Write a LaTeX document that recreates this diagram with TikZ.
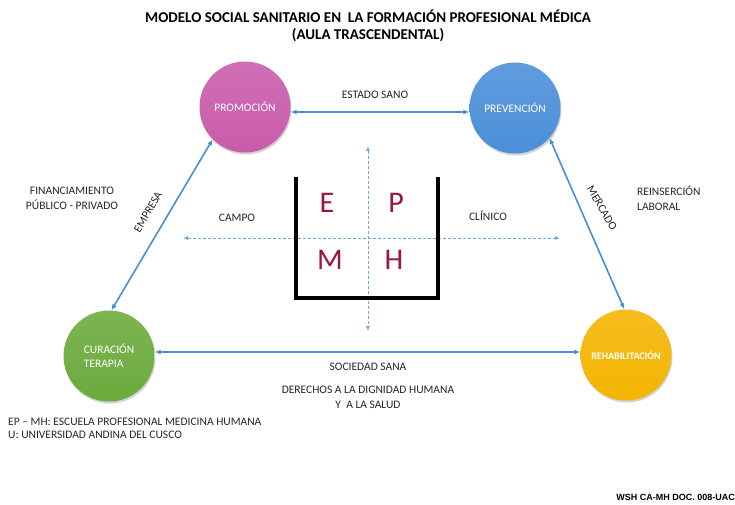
\documentclass[tikz,border=0pt]{standalone}
\usepackage{fontspec}
\setmainfont{Carlito}
\newfontfamily\docfont{Liberation Sans}
\usepackage{xcolor}
\usetikzlibrary{arrows.meta,positioning,shadows}
\definecolor{promopink}{HTML}{C95BAA}
\definecolor{prevblue}{HTML}{4B8FD8}
\definecolor{curagreen}{HTML}{6BAA3C}
\definecolor{rehabyellow}{HTML}{F4B400}
\definecolor{linkblue}{HTML}{4A8FD6}
\definecolor{dashblue}{HTML}{6FA6DC}
\definecolor{letterred}{HTML}{98173F}
\definecolor{inkgray}{HTML}{262626}
\tikzset{
  stagenode/.style={circle,minimum size=91pt,inner sep=0pt,text=white,font=\fontsize{11.5}{14}\selectfont,align=left,drop shadow={opacity=0.35,shadow xshift=1pt,shadow yshift=-2pt}},
  linkarrow/.style={{Latex[length=6pt,width=5pt]}-{Latex[length=6pt,width=5pt]},draw=linkblue,line width=1.6pt},
  axisarrow/.style={{Latex[length=5pt,width=4pt]}-{Latex[length=5pt,width=4pt]},draw=dashblue,line width=1pt,dash pattern=on 3pt off 2pt},
  tagnode/.style={font=\fontsize{11.5}{15}\selectfont,text=inkgray,align=center,inner sep=1pt},
  letternode/.style={font=\fontsize{30}{32}\selectfont,text=letterred},
}
\begin{document}
\begin{tikzpicture}[x=1pt,y=-1pt]
  \useasboundingbox[fill=white] (0,0) rectangle (735,504);
  % title
  \node[font=\bfseries\fontsize{15}{17}\selectfont,align=center,text=black] (title) at (368,26) {MODELO SOCIAL SANITARIO EN\ \ LA FORMACIÓN PROFESIONAL MÉDICA\\(AULA TRASCENDENTAL)};
  % the four stages
  \node[stagenode,top color=promopink!88!white,bottom color=promopink] (promo) at (245,107) {PROMOCIÓN};
  \node[stagenode,top color=prevblue!88!white,bottom color=prevblue] (prev) at (515,108) {PREVENCIÓN};
  \node[stagenode,top color=curagreen!88!white,bottom color=curagreen] (cura) at (109,356) {CURACIÓN\\TERAPIA};
  \node[stagenode,top color=rehabyellow!88!white,bottom color=rehabyellow,font=\bfseries\fontsize{10}{12}\selectfont] (rehab) at (626,355) {REHABILITACIÓN};
  \draw[linkarrow] (promo.east |- 0,112) -- (prev.west |- 0,112);
  \draw[linkarrow] (promo.225) -- (cura.87);
  \draw[linkarrow] (prev.319) -- (rehab.92);
  \draw[linkarrow] (cura.east |- 0,352) -- (rehab.west |- 0,352);
  % labels on the links
  \node[tagnode] (sano) at (375,95) {ESTADO SANO};
  \node[tagnode] (finan) at (72,198) {FINANCIAMIENTO\\PÚBLICO - PRIVADO};
  \node[tagnode,rotate=60] (empresa) at (148,212) {EMPRESA};
  \node[tagnode,rotate=-60] (mercado) at (602,208) {MERCADO};
  \node[tagnode,align=left,anchor=west] (reins) at (636,198) {REINSERCIÓN\\LABORAL};
  \node[tagnode] (sociedad) at (368,367) {SOCIEDAD SANA};
  \node[tagnode] (derechos) at (368,397) {DERECHOS A LA DIGNIDAD HUMANA\\Y\ \ A LA SALUD};
  % the classroom
  \coordinate (axtop) at (368,146);
  \coordinate (axbot) at (368,331);
  \coordinate (axleft) at (183,238);
  \coordinate (axright) at (560,238);
  \draw[axisarrow] (axtop) -- (axbot);
  \draw[axisarrow] (axleft) -- (axright);
  \draw[line width=4pt] (296,177) -- (296,298) -- (438,298) -- (438,177);
  \node[tagnode] (campo) at (237,218) {CAMPO};
  \node[tagnode] (clinico) at (488,216) {CLÍNICO};
  \node[letternode] (e) at (327,203) {E};
  \node[letternode] (p) at (396,203) {P};
  \node[letternode] (m) at (330,260) {M};
  \node[letternode] (h) at (394,260) {H};
  % legend
  \node[tagnode,align=left,anchor=north west,font=\fontsize{11.5}{13}\selectfont] (legend) at (7,417) {EP -- MH: ESCUELA PROFESIONAL MEDICINA HUMANA\\U: UNIVERSIDAD ANDINA DEL CUSCO};
  \node[font=\docfont\bfseries\fontsize{9}{11}\selectfont,anchor=east,inner sep=0pt] (docref) at (735,497) {WSH CA-MH DOC. 008-UAC};
\end{tikzpicture}
\end{document}
